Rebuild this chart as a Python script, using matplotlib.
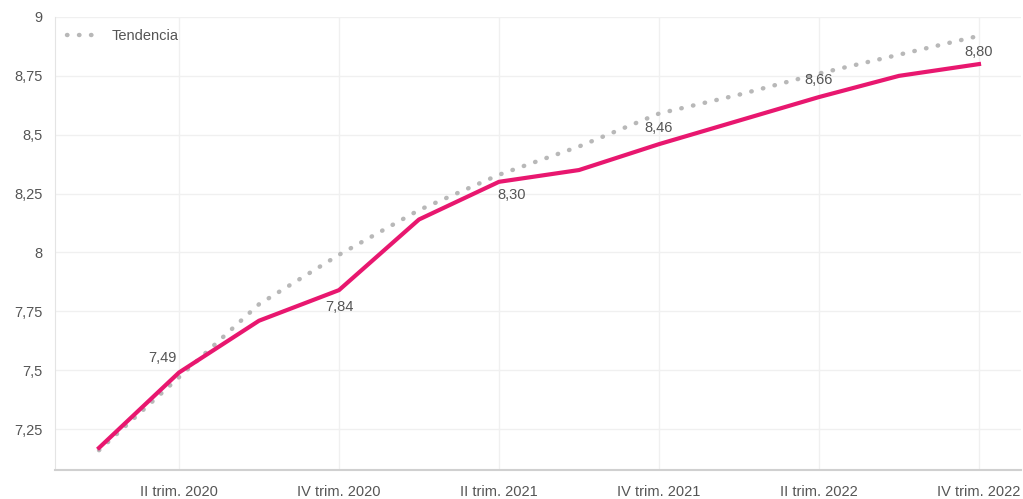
import numpy as np
import matplotlib.pyplot as plt

plt.rcParams['font.family'] = ['Liberation Sans', 'DejaVu Sans']

quarters = ['I trim. 2020', 'II trim. 2020', 'III trim. 2020', 'IV trim. 2020',
            'I trim. 2021', 'II trim. 2021', 'III trim. 2021', 'IV trim. 2021',
            'I trim. 2022', 'II trim. 2022', 'III trim. 2022', 'IV trim. 2022']
values = [7.17, 7.49, 7.71, 7.84, 8.14, 8.30, 8.35, 8.46, 8.56, 8.66, 8.75, 8.80]
trend = [7.16, 7.47, 7.78, 7.99, 8.18, 8.33, 8.45, 8.59, 8.67, 8.76, 8.84, 8.92]

# etiquetas solo en trimestres pares, con desplazamiento (px)
label_idx = [1, 3, 5, 7, 9, 11]
label_off = [(-17, 15), (0, -17), (13, -13), (0, 16), (0, 17), (0, 12)]

fig = plt.figure(figsize=(10.23, 4.99), dpi=100)
ax = fig.add_axes([55 / 1023, 29 / 499, 966 / 1023, 453 / 499])

x = np.arange(len(quarters))
ax.plot(x, trend, color='#b8b8b8', lw=3.2, linestyle=(0, (0.1, 2.6)),
        dash_capstyle='round', label='Tendencia', zorder=2)
ax.plot(x, values, color='#e8176f', lw=3, solid_joinstyle='round', zorder=3)

for i, (dx, dy) in zip(label_idx, label_off):
    ax.annotate(f'{values[i]:.2f}'.replace('.', ','), (x[i], values[i]),
                xytext=(dx, dy), textcoords='offset pixels',
                ha='center', va='center', fontsize=10.5, color='#555555', zorder=4)

ax.set_xlim(-0.55, 11.525)
ax.set_ylim(7.076, 9)
ax.set_xticks(x[1::2])
ax.set_xticklabels(quarters[1::2])
yt = [7.25, 7.5, 7.75, 8, 8.25, 8.5, 8.75, 9]
ax.set_yticks(yt)
ax.set_yticklabels([f'{v:g}'.replace('.', ',') for v in yt])

ax.grid(True, color='#f0f0f0', lw=1)
ax.set_axisbelow(True)
for s in ['top', 'right']:
    ax.spines[s].set_visible(False)
ax.spines['left'].set_color('#e4e4e4')
ax.spines['bottom'].set_color('#d0d0d0')
ax.spines['bottom'].set_linewidth(1.5)
ax.tick_params(length=0, labelsize=10.5, labelcolor='#555555')
ax.tick_params(axis='x', pad=11)
ax.tick_params(axis='y', pad=9)

ax.legend(loc='upper left', frameon=False, fontsize=10.5, handlelength=1.8,
          handletextpad=1.3, labelcolor='#555555', borderaxespad=0.4,
          bbox_to_anchor=(0.0, 1.0))

fig.savefig('out.png', dpi=100)
